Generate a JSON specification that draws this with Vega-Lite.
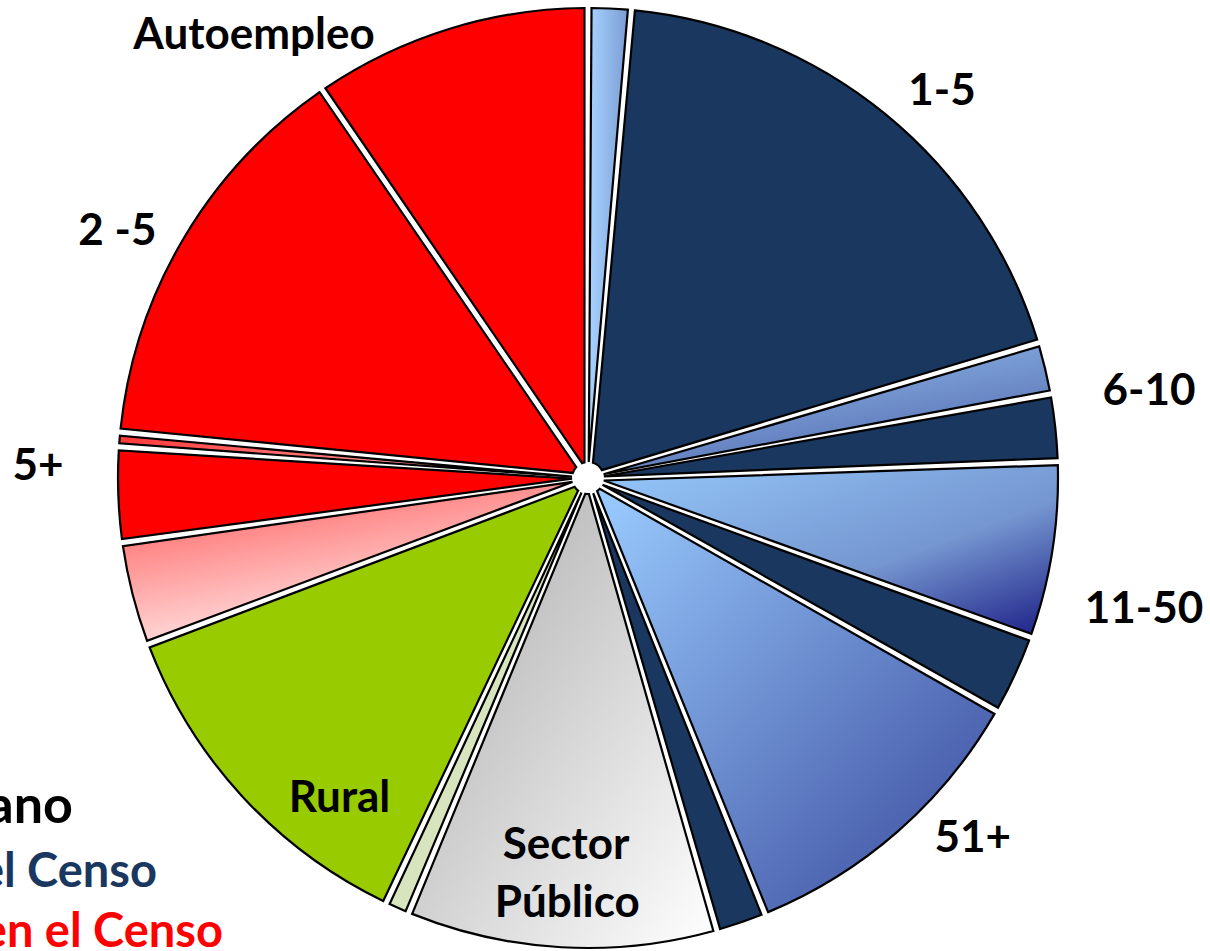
{
  "$schema": "https://vega.github.io/schema/vega-lite/v6.json",
  "description": "Empleo por sector y tamaño de empresa",
  "width": 1176,
  "height": 946,
  "autosize": {"type": "none"},
  "padding": {"left": 0, "top": 5, "right": 34, "bottom": 0},
  "background": "white",
  "config": {"view": {"stroke": null}},
  "datasets": {
    "slices": [
      {"i": 1, "k": "celeste", "v": 5.3},
      {"i": 2, "k": "registrado", "v": 68.0},
      {"i": 3, "k": "azul610", "v": 6.4},
      {"i": 4, "k": "registrado", "v": 8.3},
      {"i": 5, "k": "azul1150", "v": 21.8},
      {"i": 6, "k": "registrado", "v": 9.9},
      {"i": 7, "k": "azul51", "v": 38.2},
      {"i": 8, "k": "registrado", "v": 6.2},
      {"i": 9, "k": "publico", "v": 38.3},
      {"i": 10, "k": "verdeclaro", "v": 3.0},
      {"i": 11, "k": "rural", "v": 43.9},
      {"i": 12, "k": "rosa", "v": 12.8},
      {"i": 13, "k": "noregistrado", "v": 11.7},
      {"i": 14, "k": "rosa2", "v": 1.8},
      {"i": 15, "k": "noregistrado", "v": 50.0},
      {"i": 16, "k": "noregistrado", "v": 34.4}
    ],
    "labels": [
      {"t": "Autoempleo", "a": 322.1, "r": 543.7},
      {"t": "1-5", "a": 43.5, "r": 514.2},
      {"t": "6-10", "a": 82.6, "r": 565.7},
      {"t": "11-50", "a": 104.6, "r": 574.6},
      {"t": "51+", "a": 134.2, "r": 536.8},
      {"t": "Sector", "a": 183.3, "r": 381.6},
      {"t": "Público", "a": 182.7, "r": 439.5},
      {"t": "Rural", "a": 216.65, "r": 416.3},
      {"t": "2 -5", "a": 296.3, "r": 525.0},
      {"t": "5+", "a": 269.8, "r": 550.0}
    ],
    "leyenda": [
      {"t": "Urbano", "c": "negro", "a": 236.2, "r": 619.9, "s": "grande"},
      {"t": "Registrado en el Censo", "c": "azul", "a": 226.5, "r": 594.2, "s": "normal"},
      {"t": "No registrado en el Censo", "c": "rojo", "a": 217.9, "r": 594.3, "s": "normal"}
    ]
  },
  "layer": [
    {
      "data": {"name": "slices"},
      "mark": {
        "type": "arc",
        "outerRadius": 470,
        "innerRadius": 16,
        "padAngle": 0.015,
        "stroke": "black",
        "strokeWidth": 2.2
      },
      "encoding": {
        "theta": {"field": "v", "type": "quantitative", "stack": true, "scale": {"domain": [0, 360]}},
        "order": {"field": "i", "type": "quantitative"},
        "fill": {
          "condition": [
            {"test": "datum.k == 'noregistrado'", "value": "#FF0000"},
            {"test": "datum.k == 'rural'", "value": "#99CC00"},
            {"test": "datum.k == 'verdeclaro'", "value": "#D7E4BD"},
            {"test": "datum.k == 'celeste'", "value": {"gradient": "linear", "x1": 0, "y1": 0, "x2": 1, "y2": 0, "stops": [{"offset": 0, "color": "#A8D3FF"}, {"offset": 1, "color": "#7B9CD4"}]}},
            {"test": "datum.k == 'azul610'", "value": {"gradient": "linear", "x1": 0, "y1": 0, "x2": 0.6, "y2": 1, "stops": [{"offset": 0, "color": "#9CC8F5"}, {"offset": 1, "color": "#5169AE"}]}},
            {"test": "datum.k == 'azul1150'", "value": {"gradient": "linear", "x1": 0, "y1": 0, "x2": 1, "y2": 1, "stops": [{"offset": 0, "color": "#95C8FA"}, {"offset": 0.6, "color": "#7596D0"}, {"offset": 1, "color": "#1C1E86"}]}},
            {"test": "datum.k == 'azul51'", "value": {"gradient": "linear", "x1": 0, "y1": 0, "x2": 1, "y2": 1, "stops": [{"offset": 0, "color": "#9ACCFF"}, {"offset": 1, "color": "#38479A"}]}},
            {"test": "datum.k == 'publico'", "value": {"gradient": "linear", "x1": 0, "y1": 0, "x2": 1, "y2": 1, "stops": [{"offset": 0, "color": "#A8A8A8"}, {"offset": 1, "color": "#FFFFFF"}]}},
            {"test": "datum.k == 'rosa'", "value": {"gradient": "linear", "x1": 0, "y1": 0, "x2": 0.5, "y2": 1, "stops": [{"offset": 0, "color": "#FF5252"}, {"offset": 1, "color": "#FFF0F0"}]}},
            {"test": "datum.k == 'rosa2'", "value": {"gradient": "linear", "x1": 0, "y1": 0, "x2": 1, "y2": 0, "stops": [{"offset": 0, "color": "#FF3A3A"}, {"offset": 1, "color": "#FFC0C0"}]}}
          ],
          "value": "#1A375F"
        }
      }
    },
    {
      "data": {"name": "labels"},
      "mark": {"type": "text", "font": "Lato", "fontWeight": "bold", "fontSize": 44, "align": "center", "baseline": "alphabetic", "color": "black"},
      "encoding": {
        "theta": {"field": "a", "type": "quantitative", "stack": false, "scale": {"domain": [0, 360]}},
        "radius": {"field": "r", "type": "quantitative", "scale": {"type": "linear", "zero": true, "domain": [0, 1000], "range": [0, 1000]}},
        "text": {"field": "t", "type": "nominal"}
      }
    },
    {
      "data": {"name": "leyenda"},
      "mark": {"type": "text", "font": "Lato", "fontWeight": "bold", "align": "right", "baseline": "alphabetic"},
      "encoding": {
        "theta": {"field": "a", "type": "quantitative", "stack": false, "scale": {"domain": [0, 360]}},
        "radius": {"field": "r", "type": "quantitative", "scale": {"type": "linear", "zero": true, "domain": [0, 1000], "range": [0, 1000]}},
        "text": {"field": "t", "type": "nominal"},
        "fill": {"field": "c", "type": "nominal", "scale": {"domain": ["negro", "azul", "rojo"], "range": ["#000000", "#1A375F", "#FF0000"]}, "legend": null},
        "size": {"field": "s", "type": "nominal", "scale": {"domain": ["grande", "normal"], "range": [52, 47]}, "legend": null}
      }
    }
  ]
}
